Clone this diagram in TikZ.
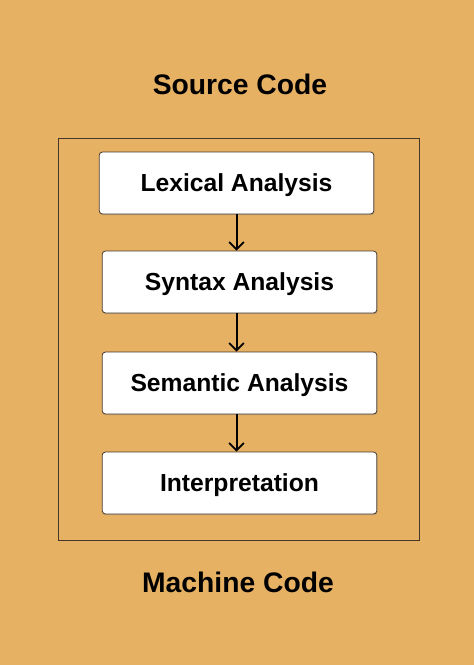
\documentclass[tikz,border=0pt]{standalone}
\usepackage{fontspec}
\setmainfont{Liberation Sans}
\usepackage{xcolor}
\usetikzlibrary{arrows.meta,shadows}
\definecolor{bgorange}{RGB}{231,177,99}
\definecolor{boxline}{RGB}{70,55,40}

\begin{document}
\begin{tikzpicture}[x=0.75pt,y=0.75pt,yscale=-1,xscale=1,
  stage/.style={draw=boxline,fill=white,rounded corners=2.5pt,line width=0.6pt,
    minimum width=206pt,minimum height=46.5pt,inner sep=0pt,
    text height=13pt,text depth=1pt,
    font=\fontsize{18.5}{21}\selectfont\bfseries,
    drop shadow={shadow xshift=0.6pt,shadow yshift=-0.9pt,opacity=0.35}},
  title/.style={inner sep=0pt,font=\fontsize{21.2}{25}\selectfont\bfseries},
  flow/.style={line width=1.5pt,-{Straight Barb[length=5.5pt,width=11pt,line width=1.3pt]}}]
%set diagram size to the reference
\useasboundingbox (0,0) rectangle (474,665);
\fill[bgorange] (0,0) rectangle (474,665);

%Shape: Rectangle
\draw[boxline,line width=0.6pt] (58.5,138.5) rectangle (419.5,540.5);

% Text Node
\node[title] (src) at (240,84) {Source Code};
% Text Node
\node[title] (mc) at (238,582) {Machine Code};

% Stage Nodes
\node[stage] (lex) at (236.5,183) {Lexical Analysis};
\node[stage] (syn) at (239.5,282) {Syntax Analysis};
\node[stage] (sem) at (239.5,383) {Semantic Analysis};
\node[stage] (int) at (239.5,483) {Interpretation};

%Straight Lines
\draw[flow] (lex.south -| 236.5,0) -- (syn.north -| 236.5,0);
\draw[flow] (syn.south -| 236.5,0) -- (sem.north -| 236.5,0);
\draw[flow] (sem.south -| 236.5,0) -- (int.north -| 236.5,0);

\end{tikzpicture}
\end{document}
